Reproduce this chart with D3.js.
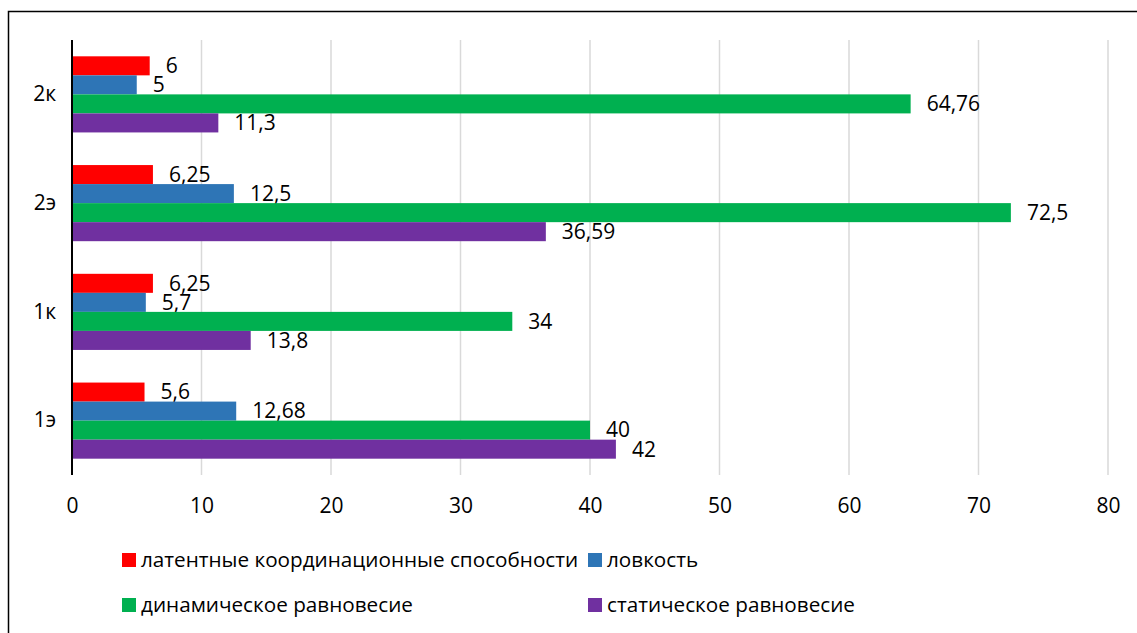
<!DOCTYPE html>
<html>
<head>
<meta charset="utf-8">
<script src="https://cdn.jsdelivr.net/npm/d3@7"></script>
<style>
  body { margin: 0; background: #fff; }
  text { font-family: "Open Sans", sans-serif; fill: #000; }
</style>
</head>
<body>
<div id="chart"></div>
<script>
// categories from top to bottom
const categories = ["2к", "2э", "1к", "1э"]
const seriesNames = ["латентные координационные способности", "ловкость", "динамическое равновесие", "статическое равновесие"]
const seriesColors = ["#ff0000", "#2e75b6", "#00b050", "#7030a0"]
// values per series, in category order
const latent = [6, 6.25, 6.25, 5.6]
const agility = [5, 12.5, 5.7, 12.68]
const dynamic = [64.76, 72.5, 34, 40]
const staticBal = [11.3, 36.59, 13.8, 42]
const xTicks = [0, 10, 20, 30, 40, 50, 60, 70, 80]

const series = [latent, agility, dynamic, staticBal]

const W = 1137, H = 633
const margin = { top: 40, left: 72, right: 29, bottom: 158 }
const width = W - margin.left - margin.right
const height = H - margin.top - margin.bottom
const fontSize = "21px"

const svg = d3.select("#chart").append("svg")
    .attr("width", W)
    .attr("height", H)

// outer frame (only left and top are visible in the crop)
svg.append("path")
    .attr("d", "M8.5," + H + " L8.5,11.5 L" + W + ",11.5")
    .attr("fill", "none")
    .attr("stroke", "#000")
    .attr("stroke-width", 1.5)

const graph = svg.append("g")
    .attr("transform", "translate(" + margin.left + "," + margin.top + ")")

const x = d3.scaleLinear().domain([0, 80]).range([0, width])

const y = d3.scaleBand()
    .domain(categories)
    .range([0, height])
    .paddingInner(0.3)
    .paddingOuter(0.15)

const inner = d3.scaleBand()
    .domain(d3.range(series.length))
    .range([0, y.bandwidth()])

// gridlines
graph.append("g")
    .selectAll("line")
    .data(xTicks.slice(1))
    .enter()
    .append("line")
    .attr("x1", d => x(d)).attr("x2", d => x(d))
    .attr("y1", 0).attr("y2", height)
    .attr("stroke", "#d9d9d9")
    .attr("stroke-width", 1.5)

// x tick labels
graph.append("g")
    .attr("transform", "translate(0," + height + ")")
    .call(d3.axisBottom(x).tickValues(xTicks).tickSize(0).tickPadding(23))
    .call(g => g.select(".domain").remove())
    .selectAll("text")
    .style("font-family", "Open Sans, sans-serif")
    .style("font-size", fontSize)
    .attr("fill", "#000")

// bars
const groups = graph.selectAll(".cat")
    .data(categories)
    .enter()
    .append("g")
    .attr("class", "cat")
    .attr("transform", d => "translate(0," + y(d) + ")")

groups.each(function (cat, ci) {
    const g = d3.select(this)
    series.forEach((vals, si) => {
        g.append("rect")
            .attr("x", 0)
            .attr("y", inner(si))
            .attr("width", x(vals[ci]))
            .attr("height", inner.bandwidth())
            .attr("fill", seriesColors[si])
        g.append("text")
            .attr("x", x(vals[ci]) + 16)
            .attr("y", inner(si) + inner.bandwidth() / 2)
            .attr("dy", "0.35em")
            .style("font-size", fontSize)
            .text(String(vals[ci]).replace(".", ","))
    })
})

// category labels
graph.append("g")
    .call(d3.axisLeft(y).tickSize(0).tickPadding(16))
    .call(g => g.select(".domain").remove())
    .selectAll("text")
    .style("font-family", "Open Sans, sans-serif")
    .style("font-size", fontSize)
    .attr("fill", "#000")

// y axis line
graph.append("line")
    .attr("x1", 0).attr("x2", 0)
    .attr("y1", 0).attr("y2", height)
    .attr("stroke", "#000")
    .attr("stroke-width", 2)

// legend
const legendPos = [[122, 560], [588, 560], [122, 605], [588, 605]]
const legend = svg.append("g")
seriesNames.forEach((name, i) => {
    const item = legend.append("g")
        .attr("transform", "translate(" + legendPos[i][0] + "," + legendPos[i][1] + ")")
    item.append("rect")
        .attr("x", 0).attr("y", -7)
        .attr("width", 14).attr("height", 14)
        .attr("fill", seriesColors[i])
    item.append("text")
        .attr("x", 19)
        .attr("dy", "0.35em")
        .style("font-size", "20.7px")
        .text(name)
})
</script>
</body>
</html>
